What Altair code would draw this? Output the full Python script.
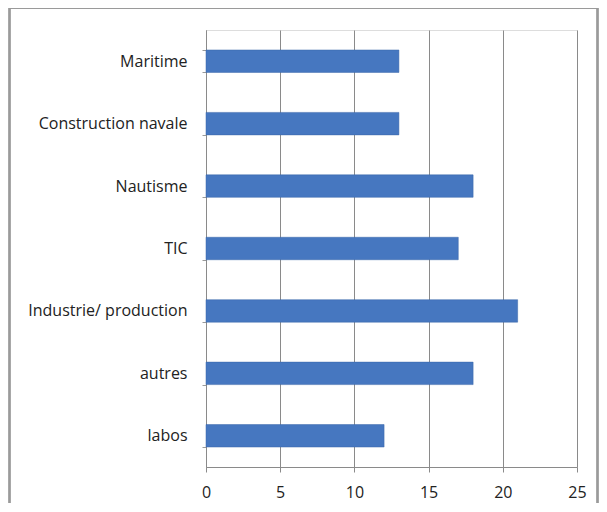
import altair as alt
import pandas as pd

categories = ["Maritime", "Construction navale", "Nautisme", "TIC",
              "Industrie/ production", "autres", "labos"]
values = [13, 13, 18, 17, 21, 18, 12]
x_ticks = [0, 5, 10, 15, 20, 25]

df = pd.DataFrame({"cat": categories, "val": values})

FONT = "Open Sans"

bars = alt.Chart(df).mark_bar(color="#4677C0", stroke="#3A66A8", strokeWidth=0.5).encode(
    y=alt.Y("cat:N", sort=categories, title=None,
            scale=alt.Scale(paddingInner=0.64, paddingOuter=0.32),
            axis=alt.Axis(tickBand="extent", tickSize=4, tickColor="#9a9a9a",
                          domainColor="#8a8a8a", labelPadding=15, labelFontSize=16,
                          labelColor="#222222", labelFont=FONT, grid=False)),
    x=alt.X("val:Q", title=None,
            scale=alt.Scale(domain=[0, 25], nice=False),
            axis=alt.Axis(values=x_ticks, tickSize=5, tickColor="#8a8a8a",
                          domainColor="#8a8a8a", gridColor="#8a8a8a", gridWidth=1,
                          labelPadding=12, labelFontSize=16, labelColor="#222222",
                          labelFont=FONT, labelFlush=False)),
)

frame = alt.Chart(df).mark_rect(fill=None, stroke="#9a9a9a", strokeWidth=1.5, clip=False).encode(
    x=alt.value(-196.5), x2=alt.value(391.5), y=alt.value(-22), y2=alt.value(490)
)

chart = alt.layer(frame, bars).properties(
    width=371, height=437,
    autosize=alt.AutoSizeParams(type="none"),
    padding={"left": 198, "top": 22, "right": 22, "bottom": 36},
).configure_view(stroke=None).configure(background="white")

chart.save("out.html", embed_options={"renderer": "svg", "actions": False})
